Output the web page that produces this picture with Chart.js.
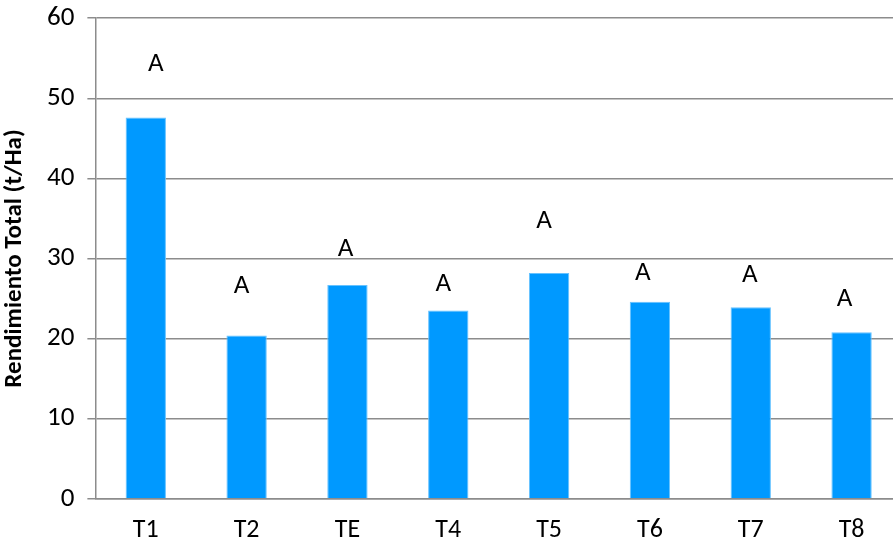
<!DOCTYPE html>
<html>
<head>
<meta charset="utf-8">
<script src="https://cdn.jsdelivr.net/npm/chart.js@4/dist/chart.umd.min.js"></script>
<style>
  html, body { margin: 0; padding: 0; background: #fff; overflow: hidden; }
  #wrap { width: 902px; height: 573px; margin-top: -11px; }
</style>
</head>
<body>
<div id="wrap"><canvas id="myChart" width="902" height="573"></canvas></div>
<script>
var categories = ["T1", "T2", "TE", "T4", "T5", "T6", "T7", "T8"];
var yieldValues = [47.6, 20.4, 26.7, 23.5, 28.2, 24.6, 23.9, 20.8];
var letters = ["A", "A", "A", "A", "A", "A", "A", "A"];
var letterLevels = [54.2, 26.5, 31.2, 26.8, 34.7, 28.1, 27.9, 24.9];
var yTicks = [0, 10, 20, 30, 40, 50, 60];

var fontFamily = "Carlito, Lato, 'Open Sans', sans-serif";

// letters above bars, placed through the y scale
var letterPlugin = {
  id: "letters",
  afterDatasetsDraw(chart) {
    var ctx = chart.ctx;
    var meta = chart.getDatasetMeta(0);
    var y = chart.scales.y;
    var shift = [10, -5, -2, -5, -5, -7, -1, -7];
    ctx.save();
    ctx.font = "27px " + fontFamily;
    ctx.fillStyle = "#000";
    ctx.textAlign = "center";
    ctx.textBaseline = "middle";
    meta.data.forEach((bar, i) => {
      ctx.fillText(letters[i], bar.x + shift[i], y.getPixelForValue(letterLevels[i]));
    });
    ctx.restore();
  }
};

new Chart("myChart", {
  type: "bar",
  data: {
    labels: categories,
    datasets: [{
      data: yieldValues,
      backgroundColor: "#0099ff",
      borderColor: "#66c2ff",
      borderWidth: 1,
      barPercentage: 0.4,
      categoryPercentage: 1.0
    }]
  },
  options: {
    responsive: false,
    animation: false,
    layout: { padding: { top: 2, left: 0, right: 0, bottom: 0 } },
    plugins: {
      legend: { display: false },
      tooltip: { enabled: false }
    },
    scales: {
      y: {
        min: 0,
        max: 60,
        afterBuildTicks: (axis) => { axis.ticks = yTicks.map(v => ({ value: v })); },
        grid: {
          color: "#8c8c8c",
          lineWidth: 1.5,
          tickLength: 8,
          drawTicks: true
        },
        border: { color: "#8c8c8c", width: 1.5 },
        ticks: {
          color: "#000",
          padding: 13,
          font: { family: fontFamily, size: 27 }
        },
        title: {
          display: true,
          text: "Rendimiento Total (t/Ha)",
          color: "#000",
          font: { family: fontFamily, size: 25, weight: "bold" },
          padding: { top: 0, bottom: 4 }
        }
      },
      x: {
        grid: { display: false, drawTicks: false },
        border: { color: "#8c8c8c", width: 1.5 },
        ticks: {
          color: "#000",
          padding: 16,
          font: { family: fontFamily, size: 26 }
        }
      }
    }
  },
  plugins: [letterPlugin]
});
</script>
</body>
</html>
